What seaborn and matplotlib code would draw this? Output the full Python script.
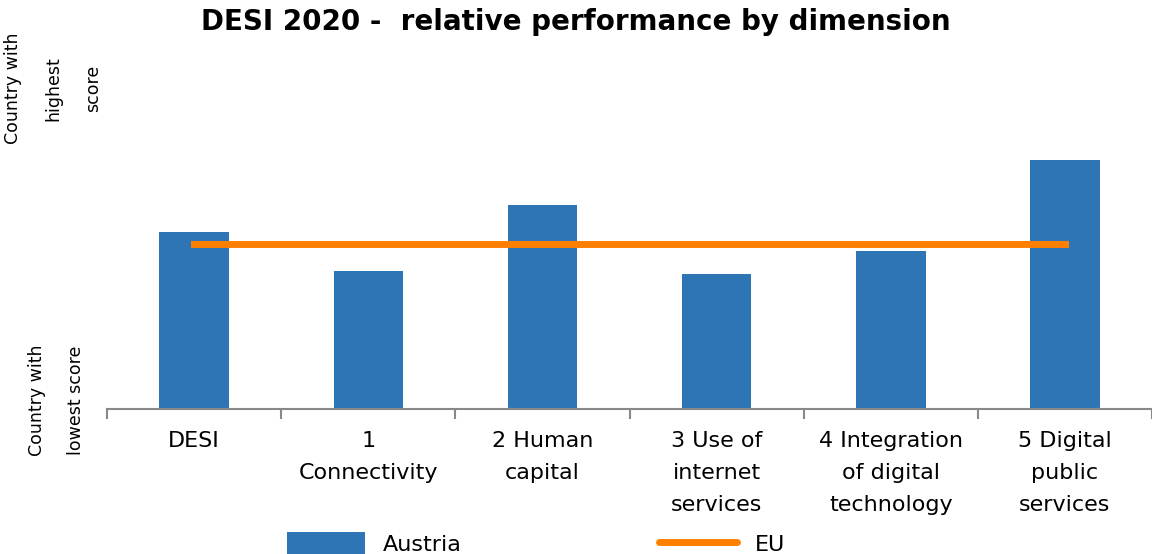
import pandas as pd
import numpy as np
import matplotlib.pyplot as plt
import seaborn as sns
from matplotlib.patches import Patch
from matplotlib.lines import Line2D

# DESI 2020 Austria relative performance (0 = lowest country, 1 = highest)
dimensions = ["DESI", "1\nConnectivity", "2 Human\ncapital", "3 Use of\ninternet\nservices",
              "4 Integration\nof digital\ntechnology", "5 Digital\npublic\nservices"]
austria = [0.48, 0.374, 0.553, 0.366, 0.428, 0.675]
eu = [0.447, 0.447, 0.447, 0.447, 0.447, 0.447]

df = pd.DataFrame({"dimension": dimensions, "Austria": austria, "EU": eu})

sns.set_style("white")
plt.rcParams['font.family'] = ['DejaVu Sans']
plt.rcParams['text.color'] = 'black'

bar_color = "#2E75B6"
eu_color = "#FF8000"

fig = plt.figure(figsize=(11.52, 5.54), dpi=100)
ax = fig.add_axes([0.093, 0.262, 0.907, 0.666])

sns.barplot(data=df, x="dimension", y="Austria", color=bar_color, width=0.4,
            saturation=1, linewidth=0, ax=ax)
ax.plot(np.arange(len(dimensions)), df["EU"], color=eu_color, linewidth=5,
        solid_capstyle="projecting")

ax.set_xlim(-0.5, 5.5)
ax.set_ylim(0, 1)
ax.set_xlabel("")
ax.set_ylabel("")
ax.set_yticks([])
for s in ["top", "right", "left"]:
    ax.spines[s].set_visible(False)
ax.spines["bottom"].set_color("#898989")
ax.spines["bottom"].set_linewidth(1.5)

ax.set_xticks(np.arange(-0.5, 6, 1), minor=True)
ax.tick_params(axis="x", which="minor", bottom=True, length=7, width=1.5,
               color="#898989", direction="out")
ax.tick_params(axis="x", which="major", length=0, pad=16, labelsize=16,
               labelcolor="black")
for lbl in ax.get_xticklabels():
    lbl.set_linespacing(1.75)

fig.suptitle("DESI 2020 -  relative performance by dimension", fontsize=20,
             fontweight="bold", y=0.985, color="black")

fig.text(0.046, 0.84, "Country with\nhighest\nscore", rotation=90, ha="center",
         va="center", fontsize=12.5, linespacing=2.55, multialignment="center")
fig.text(0.049, 0.278, "Country with\nlowest score", rotation=90, ha="center",
         va="center", fontsize=12.5, linespacing=2.55, multialignment="center")

handles = [Patch(facecolor=bar_color, edgecolor="none", label="Austria"),
           Line2D([0], [0], color=eu_color, linewidth=5, label="EU")]
fig.legend(handles=handles, loc="center left", bbox_to_anchor=(0.249, 0.018), ncol=2,
           frameon=False, fontsize=16, columnspacing=8.9, handlelength=3.5,
           handleheight=1.3, handletextpad=0.8, borderpad=0, borderaxespad=0)

fig.savefig("out.png", dpi=100)
